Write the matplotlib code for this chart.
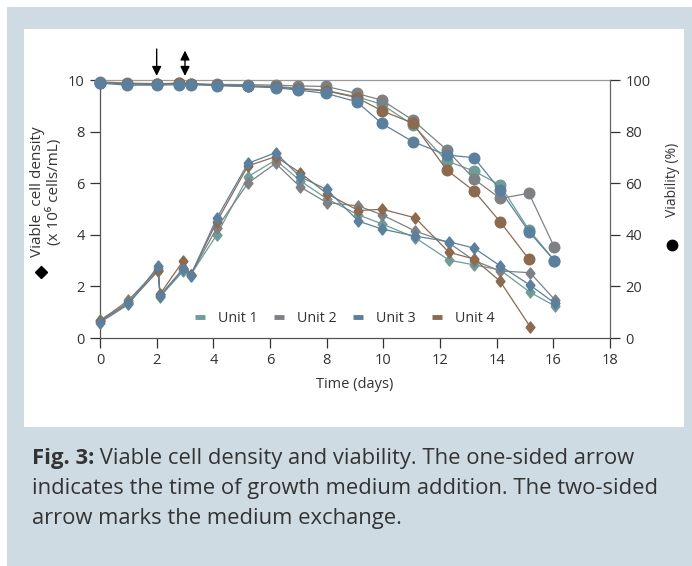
import matplotlib
matplotlib.use("Agg")
import matplotlib.pyplot as plt
from matplotlib.lines import Line2D
from matplotlib.patches import Rectangle

plt.rcParams['font.family'] = ['Open Sans', 'DejaVu Sans']

# ---------------- data ----------------
units = ["Unit 1", "Unit 2", "Unit 3", "Unit 4"]
colors = ["#6f9c96", "#7e8184", "#5b809e", "#8c6a50"]

t_vcd = [0, 1, 2.05, 2.12, 2.94, 3.2, 4.12, 5.22, 6.2, 7.06, 8.0, 9.12, 9.96,
         11.12, 12.32, 13.21, 14.12, 15.18, 16.06]
vcd_u1 = [0.7, 1.4, 2.7, 1.6, 2.6, 2.45, 4.0, 6.25, 6.9, 6.1, 5.4, 4.77, 4.42,
          3.89, 3.02, 2.83, 2.64, 1.77, 1.24]
vcd_u2 = [0.65, 1.47, 2.65, 1.65, 2.7, 2.45, 4.26, 6.0, 6.77, 5.86, 5.25, 5.12, 4.77,
          4.15, 3.68, 3.0, 2.6, 2.53, 1.47]
vcd_u3 = [0.6, 1.3, 2.78, 1.62, 2.67, 2.42, 4.64, 6.77, 7.18, 6.25, 5.76, 4.53, 4.22,
          3.95, 3.73, 3.48, 2.8, 2.05, 1.34]
vcd_u4 = [0.65, 1.35, 2.6, 1.7, 3.0, 2.45, 4.5, 6.67, 7.03, 6.41, 5.6, 4.94, 4.99,
          4.66, 3.32, 3.06, 2.2, 0.44]

t_via = [0, 0.95, 2.02, 2.8, 3.2, 4.12, 5.22, 6.2, 7.0, 7.98, 9.06, 9.94, 11.04,
         12.24, 13.2, 14.12, 15.14, 16.04]
via_u1 = [99, 98.5, 98.3, 98.5, 98.5, 98, 97.8, 97.5, 96.8, 96, 93.5, 90.6, 82.6,
          68.6, 64.7, 59.3, 41.9, 30]
via_u2 = [99.3, 98.8, 98.6, 98.7, 98.6, 98.3, 98.2, 98, 97.7, 97.5, 94.8, 92.2, 84.5,
          72.9, 61.6, 54.1, 56.1, 35.1]
via_u3 = [98.8, 98, 98, 98.2, 98.2, 97.8, 97.5, 97, 96.1, 94.8, 91.6, 83.2, 76.1,
          70.9, 69.9, 57.4, 41.2, 30.0]
via_u4 = [99, 98.5, 98.3, 98.8, 98.5, 98, 97.5, 97.3, 96.5, 95.8, 93.2, 88.1, 83.3,
          65.1, 57, 45.1, 30.5]

x_ticks = [0, 2, 4, 6, 8, 10, 12, 14, 16, 18]
y_left_ticks = [0, 2, 4, 6, 8, 10]
y_right_ticks = [0, 20, 40, 60, 80, 100]
addition_day = 2
exchange_day = 3

caption_bold = "Fig. 3:"
caption_lines = [" Viable cell density and viability. The one-sided arrow",
                 "indicates the time of growth medium addition. The two-sided",
                 "arrow marks the medium exchange."]

# ---------------- figure ----------------
W, H = 692, 566
fig = plt.figure(figsize=(W / 100, H / 100), dpi=100, facecolor="white")

def fx(px):
    return px / W

def fy(py):
    return 1 - py / H

panel_blue = "#cfdbe3"
fig.add_artist(Rectangle((fx(7), 0), 1 - fx(7), fy(7), transform=fig.transFigure,
                         facecolor=panel_blue, edgecolor="none", zorder=-10))
fig.add_artist(Rectangle((fx(24), fy(427)), fx(684) - fx(24), fy(29) - fy(427),
                         transform=fig.transFigure, facecolor="white",
                         edgecolor="none", zorder=-9))

ax = fig.add_axes([fx(100), fy(338), fx(610) - fx(100), fy(80) - fy(338)])
ax.set_facecolor("none")
ax2 = ax.twinx()

diamond = [(-0.8, 0), (0, 1), (0.8, 0), (0, -1), (-0.8, 0)]
vcd_all = [vcd_u1, vcd_u2, vcd_u3, vcd_u4]
via_all = [via_u1, via_u2, via_u3, via_u4]
order = [0, 1, 3, 2]
for i in order:
    tv = t_vcd[:len(vcd_all[i])]
    ax.plot(tv, vcd_all[i], color=colors[i], lw=0.9, marker=diamond, ms=8,
            mec=colors[i], mfc=colors[i], clip_on=False, zorder=3)
    ta = t_via[:len(via_all[i])]
    ax2.plot(ta, via_all[i], color=colors[i], lw=0.9, marker="o", ms=7.6,
             mec=colors[i], mfc=colors[i], clip_on=False, zorder=3)

ax.set_xlim(0, 18)
ax.set_ylim(0, 10)
ax2.set_ylim(0, 100)
ax.set_xticks(x_ticks)
ax.set_yticks(y_left_ticks)
ax2.set_yticks(y_right_ticks)

tick_col = "#333333"
for a in (ax, ax2):
    a.tick_params(axis="both", labelsize=10.5, colors=tick_col, length=7, width=0.9,
                  direction="out", pad=4)
ax.spines["left"].set_color("#555555")
ax.spines["bottom"].set_color("#555555")
ax.spines["top"].set_color("#9a9a9a")
ax.spines["right"].set_visible(False)
ax2.spines["right"].set_color("#666666")
ax2.spines["left"].set_visible(False)
ax2.spines["top"].set_visible(False)
ax2.spines["bottom"].set_visible(False)
for s in ax.spines.values():
    s.set_linewidth(0.9)
ax2.spines["right"].set_linewidth(0.9)

ax.set_xlabel("Time (days)", fontsize=10.5, color=tick_col, labelpad=6)

# arrows
ax.annotate("", xy=(addition_day, 10.16), xytext=(addition_day, 11.2),
            arrowprops=dict(arrowstyle="-|>", color="black", lw=1, mutation_scale=14,
                            shrinkA=0, shrinkB=0),
            annotation_clip=False)
ax.annotate("", xy=(exchange_day, 10.16), xytext=(exchange_day, 11.14),
            arrowprops=dict(arrowstyle="<|-|>", color="black", lw=1, mutation_scale=14,
                            shrinkA=0, shrinkB=0),
            annotation_clip=False)

# legend
handles = [Line2D([], [], color=c, lw=3.5, solid_capstyle="butt") for c in colors]
leg = ax.legend(handles, units, loc="center left", bbox_to_anchor=(0.186, 0.074),
                ncol=4, frameon=False, fontsize=10.3, handlelength=0.7,
                handletextpad=0.9, columnspacing=1.15, borderpad=0, borderaxespad=0)
for txt in leg.get_texts():
    txt.set_color(tick_col)

# axis labels (manual)
fig.text(fx(46), fy(192), "Viable  cell density\n(x 10⁶ cells/mL)", rotation=90,
         ha="center", va="center", fontsize=11, color=tick_col, linespacing=1.1,
         multialignment="center")
fig.add_artist(Line2D([fx(41)], [fy(272)], transform=fig.transFigure, marker="D",
                      ms=6, color="black", mec="black"))
fig.text(fx(672), fy(180), "Viability (%)", rotation=90, ha="center", va="center",
         fontsize=10, color=tick_col)
fig.add_artist(Line2D([fx(672)], [fy(245)], transform=fig.transFigure, marker="o",
                      ms=7.5, color="black", mec="black"))

# caption
cap_col = "#333333"
cap_fs = 15.8
renderer = fig.canvas.get_renderer()
tb = fig.text(fx(32), fy(464), caption_bold, fontsize=cap_fs, fontweight="bold",
              color=cap_col, va="baseline", ha="left")
bb = tb.get_window_extent(renderer=renderer)
fig.text(bb.x1 / fig.bbox.width, fy(464), caption_lines[0], fontsize=cap_fs,
         color=cap_col, va="baseline", ha="left")
fig.text(fx(32), fy(494), caption_lines[1], fontsize=cap_fs, color=cap_col,
         va="baseline", ha="left")
fig.text(fx(32), fy(524), caption_lines[2], fontsize=cap_fs, color=cap_col,
         va="baseline", ha="left")

fig.savefig("out.png", dpi=100, facecolor="white")
